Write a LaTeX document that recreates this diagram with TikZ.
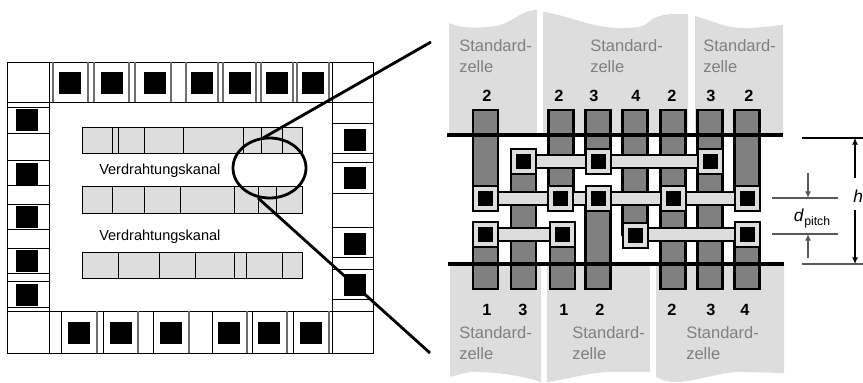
\documentclass[tikz,border=0pt]{standalone}
\usepackage{fontspec}
\setmainfont{Liberation Sans}
\usetikzlibrary{arrows.meta}
\definecolor{cellgray}{HTML}{DDDDDD}
\definecolor{colgray}{HTML}{808080}
\definecolor{edgegray}{HTML}{6E6E6E}
\tikzset{
  thinline/.style={line width=0.7pt,draw=black},
  grayline/.style={line width=0.8pt,draw=edgegray},
  pad/.style={fill=black},
  rowcell/.style={fill=cellgray,draw=black,line width=0.7pt},
  zoomline/.style={line width=2.1pt,draw=black},
  rail/.style={line width=3.6pt,draw=black},
  column/.style={fill=colgray,draw=black,line width=1.9pt},
  strap/.style={fill=cellgray,draw=black,line width=1.5pt},
  stdlabel/.style={text=colgray,font=\fontsize{12.4pt}{14pt}\selectfont,anchor=base west,inner sep=0pt},
  numlabel/.style={font=\fontsize{12.2pt}{14pt}\selectfont\bfseries,inner sep=0pt,anchor=base},
  kanal/.style={font=\fontsize{10.9pt}{13pt}\selectfont,inner sep=0pt,anchor=base west},
  dimline/.style={line width=0.8pt,draw=black},
  dimgray/.style={line width=0.8pt,draw=black!65},
  dimarrow/.style={line width=0.8pt,-{Latex[length=5pt,width=4.5pt]}}
}
\begin{document}
\begin{tikzpicture}[x=0.75pt,y=-0.75pt]
\useasboundingbox (0,0) rectangle (863,382);
% ---------- left: chip ----------
\draw[thinline] (7,62) rectangle (373,353);
\draw[thinline] (49,62) -- (49,311);
\draw[thinline] (7,102) -- (49,102);
\draw[thinline] (49,102) -- (332,102);
\draw[thinline] (332,62) -- (332,311);
\draw[thinline] (332,102) -- (373,102);
\draw[thinline] (7,311) -- (373,311);
\draw[thinline] (49,311) -- (49,353);
\draw[thinline] (332,311) -- (332,353);
% top pads
\foreach \a/\b in {53/88,94/129,135/171,186/218,223/256,261/293,297/329}{
  \draw[grayline] (\a,62) -- (\a,102);
  \draw[grayline] (\b,62) -- (\b,102);
}
\foreach \a in {59,101,144,191,229,266,302}{
  \fill[pad] (\a,72) rectangle ++(22,22);
}
% left pads
\foreach \y in {107,133,160,185,204,229,248,273,281,307}{
  \draw[thinline] (7,\y) -- (49,\y);
}
\foreach \y in {109,163,206,250,284}{
  \fill[pad] (16,\y) rectangle ++(22,21.5);
}
% right pads
\foreach \y in {123,153,162,193,227,257,269,299}{
  \draw[thinline] (332,\y) -- (373,\y);
}
\foreach \y in {129,167,233,274}{
  \fill[pad] (344,\y) rectangle ++(22,22);
}
% bottom pads
\foreach \a/\b in {61/97,103/138,153/189,212/247,252/287,293/329}{
  \draw[thinline] (\a,311) -- (\a,353);
  \draw[grayline] (\b,311) -- (\b,353);
}
\foreach \a in {68,110,160,218,258,300}{
  \fill[pad] (\a,322) rectangle ++(22,22);
}
% rows of cells
\draw[rowcell] (82,127) rectangle (302,153);
\foreach \a in {112,118,144,183,243,261,282}{\draw[thinline] (\a,127) -- (\a,153);}
\draw[rowcell] (82,186) rectangle (302,213);
\foreach \a in {112,144,180,234,258,276}{\draw[thinline] (\a,186) -- (\a,213);}
\draw[thinline] (258,186) -- (276,186) (258,213) -- (276,213);
\draw[rowcell] (82,252) rectangle (302,278);
\foreach \a in {118,159,195,234,246,282}{\draw[thinline] (\a,252) -- (\a,278);}
\node[kanal] (k1) at (99,174) {Verdrahtungskanal};
\node[kanal] (k2) at (99,240) {Verdrahtungskanal};
% zoom ellipse and lines
\draw[zoomline] (269.5,168) ellipse [x radius=36.5,y radius=30];
\coordinate (zt) at (431,42);
\coordinate (zb) at (430,353);
\coordinate (et) at (263,138);
\coordinate (eb) at (258,198);
\draw[zoomline] (et) -- (zt);
\draw[zoomline] (eb) -- (zb);
% ---------- right: channel ----------
\fill[cellgray] (449,23) .. controls (462,29) and (480,28) .. (495,26) .. controls (512,24) and (520,10) .. (537,10) -- (537,135) -- (449,135) -- cycle;
\fill[cellgray] (543,12) .. controls (565,14) and (590,28) .. (620,28) .. controls (640,28) and (645,26) .. (650,21) .. controls (656,15) and (670,13) .. (688,14) -- (688,135) -- (543,135) -- cycle;
\fill[cellgray] (695,16) .. controls (710,20) and (725,28) .. (743,28) .. controls (760,28) and (770,26) .. (783,25) -- (783,135) -- (695,135) -- cycle;
\fill[cellgray] (450,377) .. controls (458,375) and (465,372) .. (475,372) .. controls (495,372) and (525,376) .. (541,382) -- (541,264) -- (450,264) -- cycle;
\fill[cellgray] (547,382) .. controls (565,380) and (590,372) .. (610,372) -- (650,372) -- (650,264) -- (547,264) -- cycle;
\fill[cellgray] (656,377) .. controls (662,380) and (668,382) .. (675,382) .. controls (695,382) and (720,372) .. (740,372) -- (784,373) -- (784,264) -- (656,264) -- cycle;
% labels in cells
\foreach \a/\y in {459/51,590/51,703/51,459/338,572/338,686/338}{
  \pgfmathsetmacro{\yy}{\y+21}
  \node[stdlabel] at (\a,\y) {Standard-};
  \node[stdlabel] at (\a,\yy) {zelle};
}
\foreach \a/\t in {487/2,559/2,594/3,636/4,672/2,711/3,749/2}{
  \node[numlabel] at (\a,101) {\t};
}
\foreach \a/\t in {487/1,523/3,564/1,600/2,672/2,711/3,745/4}{
  \node[numlabel] at (\a,315) {\t};
}
% columns
\foreach \c/\a/\b in {485.5/110/198,485.5/234/289,523.5/161/289,561/110/198,562.5/234/289,598/110/161,598/198/289,635/110/235,673/110/198,673/198/289,710/110/161,710/161/289,747/110/198,747/234/289}{
  \draw[column] (\c-12.5,\a) rectangle (\c+12.5,\b);
}
% rails
\draw[rail] (447,135) -- (783,135);
\draw[rail] (448,264) -- (784,264);
% straps
\foreach \a/\b/\y in {523.5/710/161,485.5/747/198,485.5/562.5/234,635/747/234}{
  \draw[strap] (\a,\y-6.5) rectangle (\b,\y+6.5);
}
% vias
\foreach \c/\y in {523.5/161,598/161,710/161,485.5/198,560.5/198,598/198,673/198,747/198,485.5/234,562.5/234,635/235,747/234}{
  \fill[black] (\c-13.5,\y-13.5) rectangle (\c+13.5,\y+13.5);
  \fill[cellgray] (\c-11.5,\y-11.5) rectangle (\c+11.5,\y+11.5);
  \fill[black] (\c-7.5,\y-7.5) rectangle (\c+7.5,\y+7.5);
}
% dimensions
\coordinate (ht) at (802,138); \coordinate (htr) at (863,138);
\coordinate (hb) at (802,264); \coordinate (hbr) at (863,264);
\draw[dimline] (ht) -- (htr);
\draw[dimgray] (hb) -- (hbr);
\draw[dimgray] (772,198) -- (838,198);
\draw[dimgray] (772,234) -- (838,234);
\draw[dimarrow] (855,178) -- (855,138);
\draw[dimarrow] (855,210) -- (855,264);
\draw[dimarrow,draw=black!65] (808,173) -- (808,198);
\draw[dimarrow,draw=black!65] (808,258) -- (808,234);
\node[font=\fontsize{13pt}{15pt}\selectfont\itshape,inner sep=0pt,anchor=base west] (hl) at (853,202) {h};
\node[font=\fontsize{13pt}{15pt}\selectfont\itshape,inner sep=0pt,anchor=base west] (dl) at (793.5,221) {d};
\node[font=\fontsize{9.2pt}{11pt}\selectfont,inner sep=0pt,anchor=base west] (pl) at (804,225) {pitch};
\end{tikzpicture}
\end{document}
